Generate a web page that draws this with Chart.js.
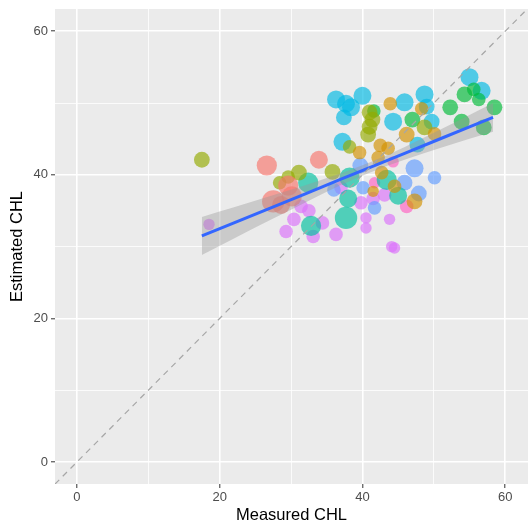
<!DOCTYPE html>
<html>
<head>
<meta charset="utf-8">
<script src="https://cdn.jsdelivr.net/npm/chart.js@4.4.0/dist/chart.umd.min.js"></script>
<style>
  html, body { margin: 0; padding: 0; background: #ffffff; overflow: hidden; }
</style>
</head>
<body>
<canvas id="chlChart" width="528" height="526"></canvas>
<script>
// samples: measured vs estimated CHL, group index, bubble weight
const groupColors = ['#F8766D', '#D39200', '#93AA00', '#00BA38', '#00C19F', '#00B9E3', '#619CFF', '#DB72FB', '#FF61C3'];

const measured = [
    26.6, 33.9, 27.5, 29.6, 30.1, 28.6,
    43.9, 48.3, 42.5, 46.2, 50.1, 43.6, 39.6, 42.2, 41.5, 47.3, 44.5, 42.7,
    17.5, 28.4, 29.6, 31.1, 35.8, 41.0, 41.0, 40.8, 41.4, 38.2, 48.7,
    52.3, 54.3, 55.6, 56.3, 58.5, 53.9, 57.0, 47.0, 41.6,
    32.4, 38.2, 38.0, 37.7, 32.8, 43.4, 45.0,
    36.3, 37.7, 38.4, 40.0, 37.4, 37.2, 44.3, 45.9, 48.7, 49.0, 49.7, 47.7, 55.0, 56.7,
    47.3, 50.1, 39.7, 45.9, 47.9, 41.7, 40.1, 36.0,
    18.5, 31.4, 32.5, 30.4, 29.3, 34.4, 33.1, 36.3, 39.8, 40.5, 40.5, 41.5, 43.1, 43.8, 44.1, 44.5, 37.0,
    46.2, 44.3, 41.7
];
const estimated = [
    41.3, 42.1, 36.3, 38.5, 37.0, 35.8,
    49.9, 49.2, 44.1, 45.6, 45.7, 43.7, 43.1, 42.4, 37.7, 36.3, 38.4, 40.3,
    42.1, 38.9, 39.7, 40.3, 40.4, 48.7, 46.7, 45.6, 47.7, 43.9, 46.6,
    49.4, 51.2, 51.9, 50.5, 49.4, 47.4, 46.6, 47.7, 48.9,
    38.9, 39.6, 36.7, 34.0, 32.9, 39.3, 37.1,
    50.5, 49.9, 49.4, 51.0, 48.0, 44.6, 47.4, 50.1, 51.2, 49.5, 47.4, 44.2, 53.6, 51.7,
    40.9, 39.6, 41.3, 38.9, 37.4, 35.4, 38.2, 37.9,
    33.1, 35.6, 35.0, 33.8, 32.1, 33.3, 31.4, 31.7, 36.1, 34.0, 32.6, 36.7, 37.2, 33.8, 30.0, 29.8, 38.2,
    35.6, 41.8, 38.9
];
const groupOf = [
    0, 0, 0, 0, 0, 0,
    1, 1, 1, 1, 1, 1, 1, 1, 1, 1, 1, 1,
    2, 2, 2, 2, 2, 2, 2, 2, 2, 2, 2,
    3, 3, 3, 3, 3, 3, 3, 3, 3,
    4, 4, 4, 4, 4, 4, 4,
    5, 5, 5, 5, 5, 5, 5, 5, 5, 5, 5, 5, 5, 5,
    6, 6, 6, 6, 6, 6, 6, 6,
    7, 7, 7, 7, 7, 7, 7, 7, 7, 7, 7, 7, 7, 7, 7, 7, 7,
    8, 8, 8
];
const weight = [
    5, 4, 6, 5, 5, 4,
    2, 2, 2, 3, 2, 2, 2, 2, 1, 3, 2, 2,
    3, 2, 2, 3, 3, 3, 3, 3, 3, 2, 3,
    3, 3, 2, 2, 3, 3, 3, 3, 2,
    5, 5, 4, 6, 5, 5, 4,
    4, 4, 4, 4, 3, 4, 4, 4, 4, 3, 3, 3, 4, 4,
    4, 2, 3, 3, 3, 2, 2, 2,
    1, 2, 2, 2, 2, 2, 2, 2, 2, 1, 1, 2, 2, 1, 1, 1, 2,
    2, 1, 1
];

// linear fit with confidence band
const fitX     = [17.5, 22, 27, 32, 37, 41, 46, 51, 55, 58.3];
const fitY     = [31.49, 33.31, 35.34, 37.36, 39.39, 41.0, 43.03, 45.06, 46.68, 48.01];
const fitLower = [28.84, 31.13, 33.67, 36.16, 38.57, 40.30, 42.14, 43.77, 45.01, 46.01];
const fitUpper = [34.14, 35.49, 37.01, 38.56, 40.21, 41.70, 43.92, 46.35, 48.35, 50.01];

// axis limits and ticks
const xLimits = [-3.08, 63.2];
const yLimits = [-3.07, 63.1];
const gridTicks = [0, 10, 20, 30, 40, 50, 60];

const fontFamily = '"Liberation Sans", Arial, sans-serif';

// build one bubble dataset per group
const bubbleSets = groupColors.map((col, g) => {
    const pts = [];
    measured.forEach((m, i) => {
        if (groupOf[i] === g) pts.push({ x: m, y: estimated[i], r: 4.6 + weight[i] * 1.1 });
    });
    return {
        type: 'bubble',
        data: pts,
        backgroundColor: col + 'A8',
        borderWidth: 0,
        hoverBorderWidth: 0,
        order: 10 + g,
    };
});

const toPts = (xs, ys) => xs.map((x, i) => ({ x: x, y: ys[i] }));

// grey panel background
const panelBg = {
    id: 'panelBg',
    beforeDraw(chart) {
        const { ctx, chartArea: a } = chart;
        ctx.save();
        ctx.fillStyle = '#EBEBEB';
        ctx.fillRect(a.left, a.top, a.right - a.left, a.bottom - a.top);
        ctx.restore();
    },
};

const axisCfg = (limits, title, isX) => ({
    type: 'linear',
    min: limits[0],
    max: limits[1],
    afterBuildTicks: s => { s.ticks = gridTicks.map(v => ({ value: v })); },
    afterFit: s => {
        if (isX) {
            s.height = 42;
            s.paddingLeft = 0;
            s.paddingRight = 0;
        } else {
            s.width = 55;
            s.paddingTop = 0;
            s.paddingBottom = 0;
        }
    },
    border: { display: false },
    grid: {
        color: '#ffffff',
        lineWidth: c => (c.tick && c.tick.value % 20 === 0 ? 1.6 : 0.8),
        tickColor: c => (c.tick && c.tick.value % 20 === 0 ? '#333333' : 'rgba(0,0,0,0)'),
        tickLength: 4,
        tickWidth: 1,
    },
    ticks: {
        callback: v => (v % 20 === 0 ? v : ''),
        color: '#4D4D4D',
        font: { size: 13, family: fontFamily },
        padding: isX ? 2 : 3,
        autoSkip: false,
        maxRotation: 0,
    },
    title: {
        display: true,
        text: title,
        color: '#000000',
        font: { size: 16.5, family: fontFamily },
        padding: isX ? { top: 0, bottom: 1 } : { top: 8, bottom: 0 },
    },
});

new Chart(document.getElementById('chlChart').getContext('2d'), {
    type: 'scatter',
    data: {
        datasets: [
            {
                type: 'line',
                data: toPts(xLimits, xLimits),
                borderColor: '#A6A6A6',
                borderWidth: 1.2,
                borderDash: [6, 5],
                pointRadius: 0,
                fill: false,
                order: 0,
            },
            {
                type: 'line',
                data: toPts(fitX, fitY),
                borderColor: '#3366FF',
                borderWidth: 3,
                pointRadius: 0,
                fill: false,
                tension: 0,
                order: 1,
            },
            {
                type: 'line',
                data: toPts(fitX, fitLower),
                borderWidth: 0,
                borderColor: 'rgba(0,0,0,0)',
                pointRadius: 0,
                fill: false,
                cubicInterpolationMode: 'monotone',
                order: 3,
            },
            {
                type: 'line',
                data: toPts(fitX, fitUpper),
                borderWidth: 0,
                borderColor: 'rgba(0,0,0,0)',
                backgroundColor: 'rgba(153,153,153,0.4)',
                pointRadius: 0,
                fill: '-1',
                cubicInterpolationMode: 'monotone',
                order: 2,
            },
            ...bubbleSets,
        ],
    },
    options: {
        responsive: false,
        animation: false,
        layout: { autoPadding: false, padding: { top: 9, right: 0, left: 0, bottom: 0 } },
        plugins: {
            legend: { display: false },
            tooltip: { enabled: false },
        },
        scales: {
            x: axisCfg(xLimits, 'Measured CHL', true),
            y: axisCfg(yLimits, 'Estimated CHL', false),
        },
    },
    plugins: [panelBg],
});
</script>
</body>
</html>
